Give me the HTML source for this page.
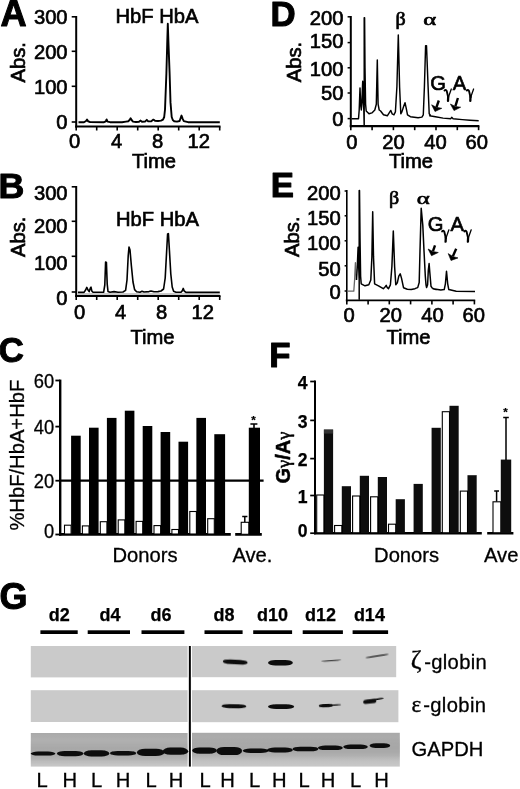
<!DOCTYPE html>
<html><head><meta charset="utf-8"><title>Figure</title>
<style>html,body{margin:0;padding:0;background:#fff;}body{width:520px;height:789px;overflow:hidden;font-family:"Liberation Sans",sans-serif;}svg{display:block;}</style>
</head><body>
<svg width="520" height="789" viewBox="0 0 520 789">
<defs><filter id="bl" x="-20%" y="-50%" width="140%" height="200%"><feGaussianBlur stdDeviation="0.7"/></filter><filter id="b3" x="-5%" y="-60%" width="110%" height="220%"><feGaussianBlur stdDeviation="0 3"/></filter><filter id="b2" x="-5%" y="-5%" width="110%" height="110%"><feGaussianBlur stdDeviation="0.35"/></filter><linearGradient id="gg" x1="0" y1="0" x2="0" y2="1"><stop offset="0" stop-color="#a9a9a9"/><stop offset="0.3" stop-color="#b6b6b6"/><stop offset="0.65" stop-color="#bdbdbd"/><stop offset="1" stop-color="#c8c8c8"/></linearGradient></defs>
<rect width="520" height="789" fill="#fff"/>
<g filter="url(#b2)">
<text x="0.6" y="26.3" font-family="Liberation Sans, sans-serif" font-size="36.2" font-weight="bold" fill="#000" stroke="#000" stroke-width="1.0" stroke-linejoin="round">A</text>
<text x="-1.4" y="197.9" font-family="Liberation Sans, sans-serif" font-size="35.8" font-weight="bold" fill="#000" stroke="#000" stroke-width="1.0" stroke-linejoin="round">B</text>
<text x="-1.2" y="362.0" font-family="Liberation Sans, sans-serif" font-size="34.8" font-weight="bold" fill="#000" stroke="#000" stroke-width="1.0" stroke-linejoin="round">C</text>
<text x="270.6" y="25.8" font-family="Liberation Sans, sans-serif" font-size="34.8" font-weight="bold" fill="#000" stroke="#000" stroke-width="1.0" stroke-linejoin="round">D</text>
<text x="270.8" y="196.8" font-family="Liberation Sans, sans-serif" font-size="34.8" font-weight="bold" fill="#000" stroke="#000" stroke-width="1.0" stroke-linejoin="round">E</text>
<text x="269.2" y="367.2" font-family="Liberation Sans, sans-serif" font-size="34.8" font-weight="bold" fill="#000" stroke="#000" stroke-width="1.0" stroke-linejoin="round">F</text>
<text x="-0.6" y="609.4" font-family="Liberation Sans, sans-serif" font-size="36" font-weight="bold" fill="#000" stroke="#000" stroke-width="1.0" stroke-linejoin="round">G</text>
<path d="M76.2,16 V127.5" stroke="#000" stroke-width="2" fill="none"/>
<path d="M75.2,126.5 H220.5" stroke="#000" stroke-width="2" fill="none"/>
<path d="M71.7,16.8 H76.2" stroke="#000" stroke-width="1.6"/>
<text x="67.6" y="24.0" font-family="Liberation Sans, sans-serif" font-size="20.2" font-weight="normal" text-anchor="end" fill="#000" stroke="#000" stroke-width="0.65" >300</text>
<path d="M71.7,51.3 H76.2" stroke="#000" stroke-width="1.6"/>
<text x="67.6" y="58.5" font-family="Liberation Sans, sans-serif" font-size="20.2" font-weight="normal" text-anchor="end" fill="#000" stroke="#000" stroke-width="0.65" >200</text>
<path d="M71.7,86.3 H76.2" stroke="#000" stroke-width="1.6"/>
<text x="67.6" y="93.5" font-family="Liberation Sans, sans-serif" font-size="20.2" font-weight="normal" text-anchor="end" fill="#000" stroke="#000" stroke-width="0.65" >100</text>
<path d="M71.7,122 H76.2" stroke="#000" stroke-width="1.6"/>
<text x="67.6" y="129.2" font-family="Liberation Sans, sans-serif" font-size="20.2" font-weight="normal" text-anchor="end" fill="#000" stroke="#000" stroke-width="0.65" >0</text>
<path d="M76.2,126.5 V130.5" stroke="#000" stroke-width="1.6"/>
<path d="M96.7,126.5 V130.5" stroke="#000" stroke-width="1.6"/>
<path d="M117.2,126.5 V130.5" stroke="#000" stroke-width="1.6"/>
<path d="M137.7,126.5 V130.5" stroke="#000" stroke-width="1.6"/>
<path d="M158.2,126.5 V130.5" stroke="#000" stroke-width="1.6"/>
<path d="M178.7,126.5 V130.5" stroke="#000" stroke-width="1.6"/>
<path d="M199.2,126.5 V130.5" stroke="#000" stroke-width="1.6"/>
<path d="M219.7,126.5 V130.5" stroke="#000" stroke-width="1.6"/>
<text x="74.5" y="148.3" font-family="Liberation Sans, sans-serif" font-size="20.2" font-weight="normal" text-anchor="middle" fill="#000" stroke="#000" stroke-width="0.65" >0</text>
<text x="116.7" y="148.3" font-family="Liberation Sans, sans-serif" font-size="20.2" font-weight="normal" text-anchor="middle" fill="#000" stroke="#000" stroke-width="0.65" >4</text>
<text x="157.7" y="148.3" font-family="Liberation Sans, sans-serif" font-size="20.2" font-weight="normal" text-anchor="middle" fill="#000" stroke="#000" stroke-width="0.65" >8</text>
<text x="198.7" y="148.3" font-family="Liberation Sans, sans-serif" font-size="20.2" font-weight="normal" text-anchor="middle" fill="#000" stroke="#000" stroke-width="0.65" >12</text>
<text x="154" y="167.5" font-family="Liberation Sans, sans-serif" font-size="20.2" font-weight="normal" text-anchor="middle" fill="#000" stroke="#000" stroke-width="0.65" >Time</text>
<text transform="translate(24.9,82.5) rotate(-90)" font-family="Liberation Sans, sans-serif" font-size="20.2" font-weight="normal" fill="#000" stroke="#000" stroke-width="0.65">Abs.</text>
<text x="157" y="23" font-family="Liberation Sans, sans-serif" font-size="20.2" font-weight="normal" text-anchor="middle" fill="#000" stroke="#000" stroke-width="0.65" >HbF HbA</text>
<polyline points="78.5,122.3 84,122.2 86,121 87,119.6 88.2,121.4 90,122 104,122.2 105.8,121.3 106.6,119.4 107.6,121.6 110,122.2 122,122.2 126,121.6 128.5,121.2 129.8,119.6 130.6,118.2 131.6,120 133,121.6 136,122 139,121.8 140.6,120.6 142,121.8 145,121.6 146.8,119.8 148.2,121.4 151,121.4 153.4,119.6 155,120.8 158,121 161,120.6 163,119.6 164.2,117 165,109.7 166.4,73.3 167.2,44 167.8,23.7 168.5,44 169.6,73 170.5,102.4 171.7,117 172.8,120 174.2,121.2 177,121.6 179.6,121 180.8,117.6 181.5,115.6 182.6,118.6 183.8,121.2 188,122.2 219.8,122.2" fill="none" stroke="#000" stroke-width="1.9" stroke-linejoin="round"/>
<path d="M76.2,186 V297" stroke="#000" stroke-width="2" fill="none"/>
<path d="M75.2,296 H220.5" stroke="#000" stroke-width="2" fill="none"/>
<path d="M71.7,186.8 H76.2" stroke="#000" stroke-width="1.6"/>
<text x="67.6" y="200.0" font-family="Liberation Sans, sans-serif" font-size="20.2" font-weight="normal" text-anchor="end" fill="#000" stroke="#000" stroke-width="0.65" >300</text>
<path d="M71.7,221.3 H76.2" stroke="#000" stroke-width="1.6"/>
<text x="67.6" y="232.9" font-family="Liberation Sans, sans-serif" font-size="20.2" font-weight="normal" text-anchor="end" fill="#000" stroke="#000" stroke-width="0.65" >200</text>
<path d="M71.7,256.3 H76.2" stroke="#000" stroke-width="1.6"/>
<text x="67.6" y="269.5" font-family="Liberation Sans, sans-serif" font-size="20.2" font-weight="normal" text-anchor="end" fill="#000" stroke="#000" stroke-width="0.65" >100</text>
<path d="M71.7,292 H76.2" stroke="#000" stroke-width="1.6"/>
<text x="67.6" y="305.2" font-family="Liberation Sans, sans-serif" font-size="20.2" font-weight="normal" text-anchor="end" fill="#000" stroke="#000" stroke-width="0.65" >0</text>
<path d="M76.2,296 V300" stroke="#000" stroke-width="1.6"/>
<path d="M96.7,296 V300" stroke="#000" stroke-width="1.6"/>
<path d="M117.2,296 V300" stroke="#000" stroke-width="1.6"/>
<path d="M137.7,296 V300" stroke="#000" stroke-width="1.6"/>
<path d="M158.2,296 V300" stroke="#000" stroke-width="1.6"/>
<path d="M178.7,296 V300" stroke="#000" stroke-width="1.6"/>
<path d="M199.2,296 V300" stroke="#000" stroke-width="1.6"/>
<path d="M219.7,296 V300" stroke="#000" stroke-width="1.6"/>
<text x="79.7" y="319.2" font-family="Liberation Sans, sans-serif" font-size="20.2" font-weight="normal" text-anchor="middle" fill="#000" stroke="#000" stroke-width="0.65" >0</text>
<text x="120.7" y="319.2" font-family="Liberation Sans, sans-serif" font-size="20.2" font-weight="normal" text-anchor="middle" fill="#000" stroke="#000" stroke-width="0.65" >4</text>
<text x="161.7" y="319.2" font-family="Liberation Sans, sans-serif" font-size="20.2" font-weight="normal" text-anchor="middle" fill="#000" stroke="#000" stroke-width="0.65" >8</text>
<text x="202.7" y="319.2" font-family="Liberation Sans, sans-serif" font-size="20.2" font-weight="normal" text-anchor="middle" fill="#000" stroke="#000" stroke-width="0.65" >12</text>
<text x="152.5" y="344.4" font-family="Liberation Sans, sans-serif" font-size="20.2" font-weight="normal" text-anchor="middle" fill="#000" stroke="#000" stroke-width="0.65" >Time</text>
<text transform="translate(24.9,257.0) rotate(-90)" font-family="Liberation Sans, sans-serif" font-size="20.2" font-weight="normal" fill="#000" stroke="#000" stroke-width="0.65">Abs.</text>
<text x="157.5" y="226" font-family="Liberation Sans, sans-serif" font-size="20.2" font-weight="normal" text-anchor="middle" fill="#000" stroke="#000" stroke-width="0.65" >HbF HbA</text>
<polyline points="78,292.4 84,292.4 85.6,290 86.8,287.4 88,290 89.2,291.6 90.4,288 91,287.2 91.8,291 93,292.2 103.6,292.3 104.8,285 105.6,262 106.4,262.4 107.2,284 108,291.4 110,292.2 114,291.6 118,292.2 123,292 125.6,290.4 127,280 128.2,256 129,247 130,250 131.4,266 133,282 134.6,289.6 136.6,291.8 140,292.2 142,291.2 144,292 149,291.6 151,291 154,291.8 158,291.6 161,291 163.6,289 165.2,278 166.6,252 167.6,234 168.4,233.6 169.4,250 170.8,274 172.2,287 173.6,291.2 176,292.2 181,292.2 182.4,290.6 183.2,288.4 184.2,291 186,292.4 219.8,292.4" fill="none" stroke="#000" stroke-width="1.6" stroke-linejoin="round"/>
<path d="M78,294 H219.8" stroke="#777" stroke-width="0.8"/>
<path d="M350.8,16 V127.2" stroke="#000" stroke-width="2" fill="none"/>
<path d="M349.8,126.2 H479.40000000000003" stroke="#000" stroke-width="2.2" fill="none"/>
<path d="M347.6,16.8 H350.8" stroke="#000" stroke-width="1.5"/>
<text x="343.40000000000003" y="24.6" font-family="Liberation Sans, sans-serif" font-size="20.2" font-weight="normal" text-anchor="end" fill="#000" stroke="#000" stroke-width="0.65" >200</text>
<path d="M347.6,42.6 H350.8" stroke="#000" stroke-width="1.5"/>
<text x="343.40000000000003" y="48.2" font-family="Liberation Sans, sans-serif" font-size="20.2" font-weight="normal" text-anchor="end" fill="#000" stroke="#000" stroke-width="0.65" >150</text>
<path d="M347.6,67.8 H350.8" stroke="#000" stroke-width="1.5"/>
<text x="343.40000000000003" y="75.6" font-family="Liberation Sans, sans-serif" font-size="20.2" font-weight="normal" text-anchor="end" fill="#000" stroke="#000" stroke-width="0.65" >100</text>
<path d="M347.6,93 H350.8" stroke="#000" stroke-width="1.5"/>
<text x="343.40000000000003" y="100.4" font-family="Liberation Sans, sans-serif" font-size="20.2" font-weight="normal" text-anchor="end" fill="#000" stroke="#000" stroke-width="0.65" >50</text>
<path d="M347.6,118.6 H350.8" stroke="#000" stroke-width="1.5"/>
<text x="343.40000000000003" y="126.2" font-family="Liberation Sans, sans-serif" font-size="20.2" font-weight="normal" text-anchor="end" fill="#000" stroke="#000" stroke-width="0.65" >0</text>
<path d="M350.8,126.2 V130.2" stroke="#000" stroke-width="1.6"/>
<path d="M372.1,126.2 V130.2" stroke="#000" stroke-width="1.6"/>
<path d="M393.4,126.2 V130.2" stroke="#000" stroke-width="1.6"/>
<path d="M414.7,126.2 V130.2" stroke="#000" stroke-width="1.6"/>
<path d="M436.0,126.2 V130.2" stroke="#000" stroke-width="1.6"/>
<path d="M457.3,126.2 V130.2" stroke="#000" stroke-width="1.6"/>
<path d="M478.6,126.2 V130.2" stroke="#000" stroke-width="1.6"/>
<text x="351.8" y="148.6" font-family="Liberation Sans, sans-serif" font-size="20.2" font-weight="normal" text-anchor="middle" fill="#000" stroke="#000" stroke-width="0.65" >0</text>
<text x="393.6" y="148.6" font-family="Liberation Sans, sans-serif" font-size="20.2" font-weight="normal" text-anchor="middle" fill="#000" stroke="#000" stroke-width="0.65" >20</text>
<text x="435.6" y="148.6" font-family="Liberation Sans, sans-serif" font-size="20.2" font-weight="normal" text-anchor="middle" fill="#000" stroke="#000" stroke-width="0.65" >40</text>
<text x="476.8" y="148.6" font-family="Liberation Sans, sans-serif" font-size="20.2" font-weight="normal" text-anchor="middle" fill="#000" stroke="#000" stroke-width="0.65" >60</text>
<text x="411" y="167.8" font-family="Liberation Sans, sans-serif" font-size="20.2" font-weight="normal" text-anchor="middle" fill="#000" stroke="#000" stroke-width="0.65" >Time</text>
<text transform="translate(301,82.3) rotate(-90)" font-family="Liberation Sans, sans-serif" font-size="20.2" font-weight="normal" fill="#000" stroke="#000" stroke-width="0.65">Abs.</text>
<polyline points="351.7,118.7 358.5,118.7 359.2,110.0 360.0,87.9 360.8,106.2 361.3,110.0 361.9,102.3 362.7,81.2 363.3,102.3 363.8,110.0 364.2,126.0 364.2,17.7 364.6,17.7 365.0,67.7 365.6,104.2 366.2,111.0 369.0,113.8 371.9,112.9 374.8,110.0 376.3,104.2 377.3,60.0 378.1,104.2 379.2,110.0 380.6,111.0 383.5,114.8 387.3,115.8 389.2,112.9 390.8,110.4 392.1,113.8 394.0,114.8 395.4,111.9 396.9,86.9 398.3,35.0 399.6,86.9 400.8,113.8 401.9,111.9 403.7,106.2 405.0,102.7 406.2,108.1 407.5,114.8 410.4,116.7 418.1,117.7 421.9,117.1 423.3,114.8 424.4,86.9 425.6,45.6 426.5,45.6 428.1,86.9 429.2,113.8 430.6,115.4 429.6,115.8 435.4,116.7 443.1,118.1 450.8,118.7 451.7,117.3 453.1,118.7 462.3,119.6 470.0,120.2 478.7,120.8" fill="none" stroke="#000" stroke-width="1.45" stroke-linejoin="round"/>
<text transform="translate(400.6,24.6) scale(0.95,0.86)" font-family="Liberation Serif, serif" font-size="21" text-anchor="middle" fill="#000" stroke="#000" stroke-width="0.8">β</text>
<text transform="translate(429.7,24.6) scale(1.1,0.76)" font-family="Liberation Serif, serif" font-size="22.5" text-anchor="middle" fill="#000" stroke="#000" stroke-width="0.8">α</text>
<text x="430.2" y="90.4" font-family="Liberation Sans, sans-serif" font-size="20.2" font-weight="normal" text-anchor="start" fill="#000" stroke="#000" stroke-width="0.65" >G</text>
<g transform="translate(444.2,88.7)" fill="none" stroke="#000" stroke-linecap="round" stroke-linejoin="round"><path d="M0.3,1.9 Q1.5,0.3 2.5,2.2 L4,8.6" stroke-width="1.9"/><path d="M7.1,0.3 L4.1,8.8" stroke-width="1.3"/><path d="M4,8 L3.8,12.2" stroke-width="2.3"/></g>
<text x="452.8" y="90.4" font-family="Liberation Sans, sans-serif" font-size="20.2" font-weight="normal" text-anchor="start" fill="#000" stroke="#000" stroke-width="0.65" >A</text>
<g transform="translate(466.5,88.7)" fill="none" stroke="#000" stroke-linecap="round" stroke-linejoin="round"><path d="M0.3,1.9 Q1.5,0.3 2.5,2.2 L4,8.6" stroke-width="1.9"/><path d="M7.1,0.3 L4.1,8.8" stroke-width="1.3"/><path d="M4,8 L3.8,12.2" stroke-width="2.3"/></g>
<path d="M438.8,100.5 L436.5,107.1" stroke="#000" stroke-width="2.4" fill="none"/>
<path d="M435.0,111.5 L431.6,104.8 L436.4,107.3 L441.8,108.3 z" fill="#000" stroke="#000" stroke-width="0.6" stroke-linejoin="round"/>
<path d="M457.9,98 L455.4,106.1" stroke="#000" stroke-width="2.4" fill="none"/>
<path d="M454.0,110.6 L450.4,104.0 L455.3,106.4 L460.7,107.2 z" fill="#000" stroke="#000" stroke-width="0.6" stroke-linejoin="round"/>
<path d="M346.8,190 V301.4" stroke="#000" stroke-width="1.6" fill="none"/>
<path d="M345.8,300.4 H475.2" stroke="#000" stroke-width="1.6" fill="none"/>
<path d="M344.6,191 H346.8" stroke="#000" stroke-width="1.5"/>
<text x="340.8" y="200.2" font-family="Liberation Sans, sans-serif" font-size="20.2" font-weight="normal" text-anchor="end" fill="#000" stroke="#000" stroke-width="0.65" >200</text>
<path d="M344.6,215.8 H346.8" stroke="#000" stroke-width="1.5"/>
<text x="340.8" y="224.6" font-family="Liberation Sans, sans-serif" font-size="20.2" font-weight="normal" text-anchor="end" fill="#000" stroke="#000" stroke-width="0.65" >150</text>
<path d="M344.6,240.8 H346.8" stroke="#000" stroke-width="1.5"/>
<text x="340.8" y="250" font-family="Liberation Sans, sans-serif" font-size="20.2" font-weight="normal" text-anchor="end" fill="#000" stroke="#000" stroke-width="0.65" >100</text>
<path d="M344.6,265.8 H346.8" stroke="#000" stroke-width="1.5"/>
<text x="340.8" y="276" font-family="Liberation Sans, sans-serif" font-size="20.2" font-weight="normal" text-anchor="end" fill="#000" stroke="#000" stroke-width="0.65" >50</text>
<path d="M344.6,291 H346.8" stroke="#000" stroke-width="1.5"/>
<text x="340.8" y="298.8" font-family="Liberation Sans, sans-serif" font-size="20.2" font-weight="normal" text-anchor="end" fill="#000" stroke="#000" stroke-width="0.65" >0</text>
<path d="M346.8,300.4 V304.4" stroke="#000" stroke-width="1.6"/>
<path d="M368.1,300.4 V304.4" stroke="#000" stroke-width="1.6"/>
<path d="M389.3,300.4 V304.4" stroke="#000" stroke-width="1.6"/>
<path d="M410.6,300.4 V304.4" stroke="#000" stroke-width="1.6"/>
<path d="M431.9,300.4 V304.4" stroke="#000" stroke-width="1.6"/>
<path d="M453.1,300.4 V304.4" stroke="#000" stroke-width="1.6"/>
<path d="M474.4,300.4 V304.4" stroke="#000" stroke-width="1.6"/>
<text x="349.2" y="322.4" font-family="Liberation Sans, sans-serif" font-size="20.2" font-weight="normal" text-anchor="middle" fill="#000" stroke="#000" stroke-width="0.65" >0</text>
<text x="390.7" y="322.4" font-family="Liberation Sans, sans-serif" font-size="20.2" font-weight="normal" text-anchor="middle" fill="#000" stroke="#000" stroke-width="0.65" >20</text>
<text x="432.5" y="322.4" font-family="Liberation Sans, sans-serif" font-size="20.2" font-weight="normal" text-anchor="middle" fill="#000" stroke="#000" stroke-width="0.65" >40</text>
<text x="473.8" y="322.4" font-family="Liberation Sans, sans-serif" font-size="20.2" font-weight="normal" text-anchor="middle" fill="#000" stroke="#000" stroke-width="0.65" >60</text>
<text x="408.5" y="343.6" font-family="Liberation Sans, sans-serif" font-size="20.2" font-weight="normal" text-anchor="middle" fill="#000" stroke="#000" stroke-width="0.65" >Time</text>
<text transform="translate(299.4,256.9) rotate(-90)" font-family="Liberation Sans, sans-serif" font-size="20.2" font-weight="normal" fill="#000" stroke="#000" stroke-width="0.65">Abs.</text>
<polyline points="347.7,291.2 353.8,291.2 354.6,280.0 355.4,262.7 356.2,276.2 356.5,280.0" fill="none" stroke="#666" stroke-width="1.3" stroke-linejoin="round"/>
<polyline points="356.5,280.0 357.3,266.5 358.1,247.3 358.7,266.5 359.2,280.0 359.2,299.2 359.2,190.6 359.5,190.6 360.0,237.7 360.6,276.2 361.2,283.8 365.0,285.8 368.8,284.8 370.8,280.0 371.9,256.9 372.7,211.7 373.5,256.9 374.6,283.8 378.5,285.8 383.3,288.7 385.2,286.7 386.2,285.4 387.3,287.7 388.5,288.7 390.4,284.8 391.9,266.5 393.3,231.0 394.6,266.5 395.8,284.8 397.3,282.9 398.8,276.2 400.2,273.8 401.5,278.1 403.5,287.7 407.3,289.2 411.2,289.6 415.0,288.7 416.2,288.1 417.7,287.6 419.2,282.5 420.0,250.8 421.2,208.2 422.8,225.4 424.0,250.8 425.3,276.0 426.0,284.8 426.6,287.6 427.6,284.8 428.3,270.4 429.1,263.5 429.8,272.3 431.0,286.3 432.3,288.1 436.2,289.6 433.1,288.7 440.8,290.0 444.2,289.6 445.4,283.8 446.5,271.3 447.7,283.8 448.8,289.6 456.2,291.2 475.0,291.5" fill="none" stroke="#000" stroke-width="1.5" stroke-linejoin="round"/>
<text transform="translate(394,203.6) scale(0.95,0.86)" font-family="Liberation Serif, serif" font-size="21" text-anchor="middle" fill="#000" stroke="#000" stroke-width="0.8">β</text>
<text transform="translate(423.3,203.8) scale(1.1,0.76)" font-family="Liberation Serif, serif" font-size="22.5" text-anchor="middle" fill="#000" stroke="#000" stroke-width="0.8">α</text>
<text x="427.8" y="231.2" font-family="Liberation Sans, sans-serif" font-size="20.2" font-weight="normal" text-anchor="start" fill="#000" stroke="#000" stroke-width="0.65" >G</text>
<g transform="translate(441.8,229.5)" fill="none" stroke="#000" stroke-linecap="round" stroke-linejoin="round"><path d="M0.3,1.9 Q1.5,0.3 2.5,2.2 L4,8.6" stroke-width="1.9"/><path d="M7.1,0.3 L4.1,8.8" stroke-width="1.3"/><path d="M4,8 L3.8,12.2" stroke-width="2.3"/></g>
<text x="450.40000000000003" y="231.2" font-family="Liberation Sans, sans-serif" font-size="20.2" font-weight="normal" text-anchor="start" fill="#000" stroke="#000" stroke-width="0.65" >A</text>
<g transform="translate(464.1,229.5)" fill="none" stroke="#000" stroke-linecap="round" stroke-linejoin="round"><path d="M0.3,1.9 Q1.5,0.3 2.5,2.2 L4,8.6" stroke-width="1.9"/><path d="M7.1,0.3 L4.1,8.8" stroke-width="1.3"/><path d="M4,8 L3.8,12.2" stroke-width="2.3"/></g>
<path d="M435,245.4 L433.0,251.2" stroke="#000" stroke-width="2.4" fill="none"/>
<path d="M431.5,255.7 L428.1,249.0 L432.9,251.5 L438.3,252.5 z" fill="#000" stroke="#000" stroke-width="0.6" stroke-linejoin="round"/>
<path d="M456.2,248.8 L452.9,256.2" stroke="#000" stroke-width="2.4" fill="none"/>
<path d="M451.0,260.5 L448.2,253.6 L452.8,256.5 L458.0,257.9 z" fill="#000" stroke="#000" stroke-width="0.6" stroke-linejoin="round"/>
<path d="M60.2,379.6 V535.6" stroke="#000" stroke-width="2.4" fill="none"/>
<path d="M55.4,380.5 H60.2" stroke="#000" stroke-width="1.8"/>
<text x="54.2" y="388.1" font-family="Liberation Sans, sans-serif" font-size="20.2" font-weight="normal" text-anchor="end" fill="#000" stroke="#000" stroke-width="0.3" textLength="20.4" lengthAdjust="spacingAndGlyphs">60</text>
<path d="M55.4,426.6 H60.2" stroke="#000" stroke-width="1.8"/>
<text x="54.2" y="434.20000000000005" font-family="Liberation Sans, sans-serif" font-size="20.2" font-weight="normal" text-anchor="end" fill="#000" stroke="#000" stroke-width="0.3" textLength="20.4" lengthAdjust="spacingAndGlyphs">40</text>
<path d="M55.4,480.7 H60.2" stroke="#000" stroke-width="1.8"/>
<text x="54.2" y="488.3" font-family="Liberation Sans, sans-serif" font-size="20.2" font-weight="normal" text-anchor="end" fill="#000" stroke="#000" stroke-width="0.3" textLength="20.4" lengthAdjust="spacingAndGlyphs">20</text>
<path d="M55.4,534.5 H60.2" stroke="#000" stroke-width="1.8"/>
<text x="54.2" y="538.2" font-family="Liberation Sans, sans-serif" font-size="20.2" font-weight="normal" text-anchor="end" fill="#000" stroke="#000" stroke-width="0.3" textLength="10.2" lengthAdjust="spacingAndGlyphs">0</text>
<path d="M59,534.4 H230.8 M235.2,534.4 H261.8" stroke="#000" stroke-width="2.8" fill="none"/>
<rect x="71.1" y="435.7" width="9.6" height="98.8" fill="#000"/>
<rect x="64.5" y="525.2" width="6.6" height="8.8" fill="#fff" stroke="#000" stroke-width="1.1"/>
<rect x="89.0" y="427.7" width="9.6" height="106.8" fill="#000"/>
<rect x="82.4" y="525.9" width="6.6" height="8.1" fill="#fff" stroke="#000" stroke-width="1.1"/>
<rect x="106.9" y="417.9" width="9.6" height="116.6" fill="#000"/>
<rect x="100.3" y="521.7" width="6.6" height="12.3" fill="#fff" stroke="#000" stroke-width="1.1"/>
<rect x="124.8" y="410.7" width="9.6" height="123.8" fill="#000"/>
<rect x="118.2" y="519.9" width="6.6" height="14.1" fill="#fff" stroke="#000" stroke-width="1.1"/>
<rect x="142.7" y="426" width="9.6" height="108.5" fill="#000"/>
<rect x="136.1" y="521.4" width="6.6" height="12.6" fill="#fff" stroke="#000" stroke-width="1.1"/>
<rect x="160.6" y="432" width="9.6" height="102.5" fill="#000"/>
<rect x="154.0" y="525.6" width="6.6" height="8.4" fill="#fff" stroke="#000" stroke-width="1.1"/>
<rect x="178.5" y="441.7" width="9.6" height="92.8" fill="#000"/>
<rect x="171.9" y="529.5" width="6.6" height="4.5" fill="#fff" stroke="#000" stroke-width="1.1"/>
<rect x="196.4" y="417.9" width="9.6" height="116.6" fill="#000"/>
<rect x="189.8" y="511.5" width="6.6" height="22.5" fill="#fff" stroke="#000" stroke-width="1.1"/>
<rect x="214.3" y="434.2" width="10.8" height="100.3" fill="#000"/>
<rect x="207.7" y="518.7" width="6.6" height="15.3" fill="#fff" stroke="#000" stroke-width="1.1"/>
<rect x="248.8" y="427.7" width="11.2" height="106.8" fill="#000"/>
<rect x="241.2" y="522.3" width="7.6" height="12" fill="#fff" stroke="#000" stroke-width="1.1"/>
<path d="M244.8,522 V516.4 M242.2,516.6 H247.4" stroke="#000" stroke-width="1.5" fill="none"/>
<path d="M254,428 V424 M250.4,424 H257.4" stroke="#000" stroke-width="1.6" fill="none"/>
<text x="253.4" y="424.2" font-family="Liberation Sans, sans-serif" font-size="11.5" font-weight="bold" text-anchor="middle" fill="#000" stroke="#000" stroke-width="0.25" >*</text>
<path d="M60,480.6 H263.6" stroke="#000" stroke-width="2.2"/>
<text x="145" y="561.6" font-family="Liberation Sans, sans-serif" font-size="20.2" font-weight="normal" text-anchor="middle" fill="#000" stroke="#000" stroke-width="0.3" >Donors</text>
<text x="232.4" y="561.6" font-family="Liberation Sans, sans-serif" font-size="20.2" font-weight="normal" text-anchor="start" fill="#000" stroke="#000" stroke-width="0.3" >Ave.</text>
<text transform="translate(24,530.6) rotate(-90)" font-family="Liberation Sans, sans-serif" font-size="20.2" font-weight="normal" fill="#000" stroke="#000" stroke-width="0.3">%HbF/HbA+HbF</text>
<path d="M315,380.6 V534.2" stroke="#000" stroke-width="2" fill="none"/>
<path d="M310.2,381.5 H315" stroke="#000" stroke-width="1.7"/>
<text x="307.6" y="388.9" font-family="Liberation Sans, sans-serif" font-size="17.6" font-weight="bold" text-anchor="end" fill="#000" stroke="#000" stroke-width="0.25" >4</text>
<path d="M310.2,420.4 H315" stroke="#000" stroke-width="1.7"/>
<text x="307.6" y="427.79999999999995" font-family="Liberation Sans, sans-serif" font-size="17.6" font-weight="bold" text-anchor="end" fill="#000" stroke="#000" stroke-width="0.25" >3</text>
<path d="M310.2,458.6 H315" stroke="#000" stroke-width="1.7"/>
<text x="307.6" y="466.0" font-family="Liberation Sans, sans-serif" font-size="17.6" font-weight="bold" text-anchor="end" fill="#000" stroke="#000" stroke-width="0.25" >2</text>
<path d="M310.2,495.5 H315" stroke="#000" stroke-width="1.7"/>
<text x="307.6" y="502.9" font-family="Liberation Sans, sans-serif" font-size="17.6" font-weight="bold" text-anchor="end" fill="#000" stroke="#000" stroke-width="0.25" >1</text>
<path d="M310.2,533.2 H315" stroke="#000" stroke-width="1.7"/>
<text x="307.6" y="537" font-family="Liberation Sans, sans-serif" font-size="17.6" font-weight="bold" text-anchor="end" fill="#000" stroke="#000" stroke-width="0.25" >0</text>
<path d="M314,533.2 H481.8 M487.2,533.2 H513.4" stroke="#000" stroke-width="2.4" fill="none"/>
<rect x="323.9" y="429.6" width="9.2" height="103.6" fill="#0a0a0a"/>
<rect x="316.7" y="495.0" width="7.2" height="37.8" fill="#fff" stroke="#000" stroke-width="1.1"/>
<rect x="341.8" y="486.2" width="9.2" height="47.0" fill="#0a0a0a"/>
<rect x="334.6" y="525.5" width="7.2" height="7.3" fill="#fff" stroke="#000" stroke-width="1.1"/>
<rect x="359.8" y="475.8" width="9.2" height="57.4" fill="#0a0a0a"/>
<rect x="352.6" y="496.0" width="7.2" height="36.8" fill="#fff" stroke="#000" stroke-width="1.1"/>
<rect x="377.8" y="477" width="9.2" height="56.2" fill="#0a0a0a"/>
<rect x="370.6" y="496.8" width="7.2" height="36.0" fill="#fff" stroke="#000" stroke-width="1.1"/>
<rect x="395.7" y="499.2" width="9.2" height="34.0" fill="#0a0a0a"/>
<rect x="388.5" y="524.2" width="7.2" height="8.6" fill="#fff" stroke="#000" stroke-width="1.1"/>
<rect x="413.6" y="483.9" width="9.2" height="49.3" fill="#0a0a0a"/>
<rect x="431.6" y="427.8" width="9.2" height="105.4" fill="#0a0a0a"/>
<rect x="449.5" y="405.8" width="9.2" height="127.4" fill="#0a0a0a"/>
<rect x="442.3" y="411.7" width="7.2" height="121.1" fill="#fff" stroke="#000" stroke-width="1.1"/>
<rect x="467.5" y="475.2" width="9.2" height="58.0" fill="#0a0a0a"/>
<rect x="460.3" y="491.1" width="7.2" height="41.7" fill="#fff" stroke="#000" stroke-width="1.1"/>
<rect x="323.9" y="429.6" width="9.2" height="4" fill="#333"/>
<rect x="500.8" y="459.6" width="10.4" height="73.6" fill="#111"/>
<rect x="493" y="501.8" width="7.8" height="31" fill="#fff" stroke="#000" stroke-width="1.1"/>
<path d="M496.6,501.4 V490.8 M494.2,491 H499" stroke="#000" stroke-width="1.5" fill="none"/>
<path d="M506,460 V417.4 M503.2,417.6 H508.8" stroke="#000" stroke-width="1.5" fill="none"/>
<text x="505.4" y="415.8" font-family="Liberation Sans, sans-serif" font-size="11.5" font-weight="bold" text-anchor="middle" fill="#000" stroke="#000" stroke-width="0.25" >*</text>
<text x="406.6" y="562.4" font-family="Liberation Sans, sans-serif" font-size="20.2" font-weight="normal" text-anchor="middle" fill="#000" stroke="#000" stroke-width="0.3" >Donors</text>
<text x="484" y="562.4" font-family="Liberation Sans, sans-serif" font-size="20.2" font-weight="normal" text-anchor="start" fill="#000" stroke="#000" stroke-width="0.3" >Ave</text>
<text transform="translate(290.2,483.6) rotate(-90)" font-family="Liberation Sans, sans-serif" font-size="20" font-weight="bold" fill="#000" stroke="#000" stroke-width="0.5">G<tspan font-family="Liberation Serif, serif" font-weight="normal" font-size="18.5">γ</tspan>/A<tspan font-family="Liberation Serif, serif" font-weight="normal" font-size="18.5">γ</tspan></text>
<text x="59.2" y="621.4" font-family="Liberation Sans, sans-serif" font-size="18" font-weight="bold" text-anchor="middle" fill="#000" stroke="#000" stroke-width="0.25" >d2</text>
<text x="110" y="621.4" font-family="Liberation Sans, sans-serif" font-size="18" font-weight="bold" text-anchor="middle" fill="#000" stroke="#000" stroke-width="0.25" >d4</text>
<text x="161" y="621.4" font-family="Liberation Sans, sans-serif" font-size="18" font-weight="bold" text-anchor="middle" fill="#000" stroke="#000" stroke-width="0.25" >d6</text>
<text x="224" y="621.4" font-family="Liberation Sans, sans-serif" font-size="18" font-weight="bold" text-anchor="middle" fill="#000" stroke="#000" stroke-width="0.25" >d8</text>
<text x="272.6" y="621.4" font-family="Liberation Sans, sans-serif" font-size="18" font-weight="bold" text-anchor="middle" fill="#000" stroke="#000" stroke-width="0.25" >d10</text>
<text x="320.6" y="621.4" font-family="Liberation Sans, sans-serif" font-size="18" font-weight="bold" text-anchor="middle" fill="#000" stroke="#000" stroke-width="0.25" >d12</text>
<text x="369.4" y="621.4" font-family="Liberation Sans, sans-serif" font-size="18" font-weight="bold" text-anchor="middle" fill="#000" stroke="#000" stroke-width="0.25" >d14</text>
<rect x="40.4" y="630.3" width="37.3" height="3.7" fill="#000"/>
<rect x="87.7" y="630.3" width="42.3" height="3.7" fill="#000"/>
<rect x="141.5" y="630.3" width="42.9" height="3.7" fill="#000"/>
<rect x="204.5" y="630.3" width="38.1" height="3.7" fill="#000"/>
<rect x="253.2" y="630.3" width="38.9" height="3.7" fill="#000"/>
<rect x="302.7" y="630.3" width="40.2" height="3.7" fill="#000"/>
<rect x="352.6" y="630.3" width="35.5" height="3.7" fill="#000"/>
<rect x="30.8" y="646" width="156.8" height="31.4" fill="#cacaca"/>
<rect x="30.8" y="690.2" width="156.8" height="31.8" fill="#cacaca"/>
<rect x="30.8" y="733" width="156.8" height="33.6" fill="url(#gg)"/>
<rect x="192" y="646" width="204.2" height="31.2" fill="#cacaca"/>
<rect x="192" y="690.2" width="206.4" height="32" fill="#cacaca"/>
<rect x="192" y="732.8" width="207.8" height="33.8" fill="url(#gg)"/>
<path d="M189.85,646 V766.6" stroke="#000" stroke-width="2"/>
<rect x="30.8" y="743" width="156.8" height="17" fill="#9a9a9a" opacity="0.55" filter="url(#b3)"/>
<rect x="192" y="739" width="207.8" height="18" fill="#9a9a9a" opacity="0.55" filter="url(#b3)"/>
<rect x="30.7" y="751.6" width="24.7" height="4.0" rx="7.4" ry="2.0" fill="#0c0c0c" opacity="1" filter="url(#bl)" transform="rotate(0 43.0 753.6)"/>
<rect x="56.9" y="750.9" width="26.6" height="5.4" rx="8.0" ry="2.7" fill="#0c0c0c" opacity="1" filter="url(#bl)" transform="rotate(0 70.2 753.6)"/>
<rect x="83.8" y="750.3" width="25.5" height="6.2" rx="7.6" ry="3.1" fill="#0c0c0c" opacity="1" filter="url(#bl)" transform="rotate(0 96.5 753.4)"/>
<rect x="110.0" y="750.9" width="26.2" height="4.6" rx="7.9" ry="2.3" fill="#0c0c0c" opacity="1" filter="url(#bl)" transform="rotate(0 123.1 753.2)"/>
<rect x="136.9" y="748.8" width="27.4" height="7.2" rx="8.2" ry="3.6" fill="#0c0c0c" opacity="1" filter="url(#bl)" transform="rotate(0 150.6 752.4)"/>
<rect x="162.7" y="747.6" width="25.5" height="7.2" rx="7.7" ry="3.6" fill="#0c0c0c" opacity="1" filter="url(#bl)" transform="rotate(0 175.4 751.2)"/>
<rect x="192.2" y="747.4" width="24.6" height="6.4" rx="7.4" ry="3.2" fill="#0c0c0c" opacity="1" filter="url(#bl)" transform="rotate(0 204.5 750.6)"/>
<rect x="216.4" y="746.9" width="25.7" height="8.2" rx="7.7" ry="4.1" fill="#0c0c0c" opacity="1" filter="url(#bl)" transform="rotate(0 229.2 751)"/>
<rect x="242.7" y="748.6" width="26.1" height="4.4" rx="7.8" ry="2.2" fill="#0c0c0c" opacity="1" filter="url(#bl)" transform="rotate(0 255.8 750.8)"/>
<rect x="267.2" y="747.4" width="25.7" height="5.2" rx="7.7" ry="2.6" fill="#0c0c0c" opacity="1" filter="url(#bl)" transform="rotate(0 280.1 750)"/>
<rect x="292.6" y="746.7" width="25.7" height="4.6" rx="7.7" ry="2.3" fill="#0c0c0c" opacity="1" filter="url(#bl)" transform="rotate(0 305.4 749)"/>
<rect x="317.9" y="745.5" width="24.9" height="4.6" rx="7.5" ry="2.3" fill="#0c0c0c" opacity="1" filter="url(#bl)" transform="rotate(0 330.4 747.8)"/>
<rect x="343.3" y="744.5" width="24.5" height="4.6" rx="7.3" ry="2.3" fill="#0c0c0c" opacity="1" filter="url(#bl)" transform="rotate(0 355.6 746.8)"/>
<rect x="369.6" y="743.3" width="20.6" height="4.6" rx="6.2" ry="2.3" fill="#0c0c0c" opacity="1" filter="url(#bl)" transform="rotate(0 379.9 745.6)"/>
<rect x="222.8" y="659.7" width="24.8" height="4.6" rx="7.4" ry="2.3" fill="#0c0c0c" opacity="1" filter="url(#bl)" transform="rotate(3 235.2 662)"/>
<rect x="268.0" y="660.0" width="24.9" height="5.6" rx="7.5" ry="2.8" fill="#0c0c0c" opacity="1" filter="url(#bl)" transform="rotate(0 280.5 662.8)"/>
<rect x="320.9" y="660.0" width="20.6" height="1.2" rx="6.2" ry="0.6" fill="#0c0c0c" opacity="0.7" filter="url(#bl)" transform="rotate(-4 331.2 660.6)"/>
<rect x="365.3" y="655.2" width="23.6" height="1.6" rx="7.1" ry="0.8" fill="#0c0c0c" opacity="0.8" filter="url(#bl)" transform="rotate(-9 377.1 656)"/>
<rect x="221.5" y="704.2" width="24.9" height="4" rx="7.5" ry="2.0" fill="#0c0c0c" opacity="1" filter="url(#bl)" transform="rotate(1 233.9 706.2)"/>
<rect x="268.0" y="704.2" width="26.2" height="4.8" rx="7.9" ry="2.4" fill="#0c0c0c" opacity="1" filter="url(#bl)" transform="rotate(0 281.1 706.6)"/>
<rect x="318.8" y="703.9" width="14.0" height="3.4" rx="4.2" ry="1.7" fill="#0c0c0c" opacity="1" filter="url(#bl)" transform="rotate(-2 325.8 705.6)"/>
<rect x="327.2" y="704.4" width="14.0" height="1.3" rx="4.2" ry="0.65" fill="#0c0c0c" opacity="1" filter="url(#bl)" transform="rotate(-4 334.2 705)"/>
<rect x="363.2" y="699.2" width="13.1" height="4.4" rx="3.9" ry="2.2" fill="#0c0c0c" opacity="1" filter="url(#bl)" transform="rotate(-6 369.8 701.4)"/>
<rect x="371.2" y="698.5" width="12.6" height="1.6" rx="3.8" ry="0.8" fill="#0c0c0c" opacity="1" filter="url(#bl)" transform="rotate(-10 377.5 699.3)"/>
<text x="42.2" y="786.6" font-family="Liberation Sans, sans-serif" font-size="20.2" font-weight="normal" text-anchor="middle" fill="#000" stroke="#000" stroke-width="0.3" >L</text>
<text x="69.8" y="786.6" font-family="Liberation Sans, sans-serif" font-size="20.2" font-weight="normal" text-anchor="middle" fill="#000" stroke="#000" stroke-width="0.3" >H</text>
<text x="96.6" y="786.6" font-family="Liberation Sans, sans-serif" font-size="20.2" font-weight="normal" text-anchor="middle" fill="#000" stroke="#000" stroke-width="0.3" >L</text>
<text x="123" y="786.6" font-family="Liberation Sans, sans-serif" font-size="20.2" font-weight="normal" text-anchor="middle" fill="#000" stroke="#000" stroke-width="0.3" >H</text>
<text x="151" y="786.6" font-family="Liberation Sans, sans-serif" font-size="20.2" font-weight="normal" text-anchor="middle" fill="#000" stroke="#000" stroke-width="0.3" >L</text>
<text x="176" y="786.6" font-family="Liberation Sans, sans-serif" font-size="20.2" font-weight="normal" text-anchor="middle" fill="#000" stroke="#000" stroke-width="0.3" >H</text>
<text x="205" y="786.6" font-family="Liberation Sans, sans-serif" font-size="20.2" font-weight="normal" text-anchor="middle" fill="#000" stroke="#000" stroke-width="0.3" >L</text>
<text x="227.6" y="786.6" font-family="Liberation Sans, sans-serif" font-size="20.2" font-weight="normal" text-anchor="middle" fill="#000" stroke="#000" stroke-width="0.3" >H</text>
<text x="254.6" y="786.6" font-family="Liberation Sans, sans-serif" font-size="20.2" font-weight="normal" text-anchor="middle" fill="#000" stroke="#000" stroke-width="0.3" >L</text>
<text x="279.4" y="786.6" font-family="Liberation Sans, sans-serif" font-size="20.2" font-weight="normal" text-anchor="middle" fill="#000" stroke="#000" stroke-width="0.3" >H</text>
<text x="304" y="786.6" font-family="Liberation Sans, sans-serif" font-size="20.2" font-weight="normal" text-anchor="middle" fill="#000" stroke="#000" stroke-width="0.3" >L</text>
<text x="328" y="786.6" font-family="Liberation Sans, sans-serif" font-size="20.2" font-weight="normal" text-anchor="middle" fill="#000" stroke="#000" stroke-width="0.3" >H</text>
<text x="355.6" y="786.6" font-family="Liberation Sans, sans-serif" font-size="20.2" font-weight="normal" text-anchor="middle" fill="#000" stroke="#000" stroke-width="0.3" >L</text>
<text x="381.6" y="786.6" font-family="Liberation Sans, sans-serif" font-size="20.2" font-weight="normal" text-anchor="middle" fill="#000" stroke="#000" stroke-width="0.3" >H</text>
<text x="410.8" y="668.4" font-family="Liberation Serif, serif" font-size="26" fill="#000" stroke="#000" stroke-width="0.4">ζ</text>
<text x="411.4" y="711.6" font-family="Liberation Serif, serif" font-size="23" fill="#000" stroke="#000" stroke-width="0.4">ε</text>
<text x="424.2" y="668.8" font-family="Liberation Sans, sans-serif" font-size="20.2" font-weight="normal" text-anchor="start" fill="#000" stroke="#000" stroke-width="0.3" letter-spacing="0.32">-globin</text>
<text x="423.2" y="712.2" font-family="Liberation Sans, sans-serif" font-size="20.2" font-weight="normal" text-anchor="start" fill="#000" stroke="#000" stroke-width="0.3" letter-spacing="0.36">-globin</text>
<text x="411.6" y="756.4" font-family="Liberation Sans, sans-serif" font-size="20.2" font-weight="normal" text-anchor="start" fill="#000" stroke="#000" stroke-width="0.3" >GAPDH</text>
</g>
</svg>
</body></html>
